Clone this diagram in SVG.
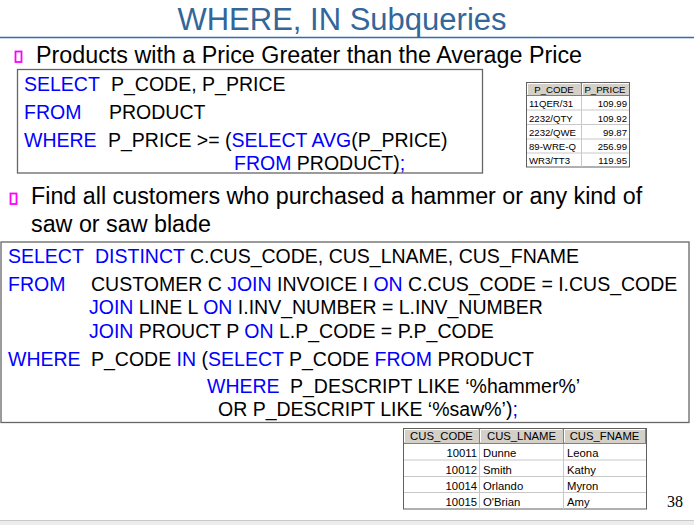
<svg xmlns="http://www.w3.org/2000/svg" width="694" height="525" viewBox="0 0 694 525">
<defs>
<style>
.title{font-family:"Liberation Sans",Arial,sans-serif;font-size:31px;fill:#336699}
.bul{font-family:"Liberation Sans",Arial,sans-serif;font-size:23.3px;fill:#000}
.sq{fill:none;stroke:#FF00FF;stroke-width:1.8}
.sql{font-family:"Liberation Sans",Arial,sans-serif;font-size:19.5px;fill:#000}
.k{fill:#0000FF}
.box{fill:#fff;stroke:#666;stroke-width:1.3}
.th{fill:#D4D0C8;stroke:none}
.hl{stroke:#fff;stroke-width:1}
.sh{stroke:#808080;stroke-width:1}
.grid{stroke:#C8C8C8;stroke-width:1}
.outer{fill:#fff;stroke:#606060;stroke-width:1}
.t1{font-family:"Liberation Sans",Arial,sans-serif;font-size:9.6px;fill:#000}
.t2{font-family:"Liberation Sans",Arial,sans-serif;font-size:11.3px;fill:#000}
.pg{font-family:"Liberation Serif","Times New Roman",serif;font-size:16px;fill:#000}
</style>
</defs>

<g id="title">
<text class="title" x="342" y="30" text-anchor="middle">WHERE, IN Subqueries</text>
<line x1="0" y1="37.5" x2="694" y2="37.5" stroke="#2F6EAA" stroke-width="1.5"/>
</g>

<g id="bullet1">
<rect class="sq" x="15.5" y="51.5" width="6" height="10.5"/>
<text class="bul" x="36" y="62.5">Products with a Price Greater than the Average Price</text>
</g>

<g id="query1">
<rect class="box" x="17.5" y="69.5" width="465" height="103.5"/>
<text class="sql" y="91" xml:space="preserve"><tspan class="k" x="24">SELECT</tspan><tspan x="111">P_CODE, P_PRICE</tspan></text>
<text class="sql" y="119" xml:space="preserve"><tspan class="k" x="24">FROM</tspan><tspan x="109">PRODUCT</tspan></text>
<text class="sql" y="147" xml:space="preserve"><tspan class="k" x="24">WHERE</tspan><tspan x="108">P_PRICE &gt;= (</tspan><tspan class="k">SELECT AVG</tspan>(P_PRICE)</text>
<text class="sql" y="170" xml:space="preserve"><tspan class="k" x="234">FROM</tspan> PRODUCT)<tspan class="k">;</tspan></text>
</g>

<g id="table1">
<rect class="outer" x="526.5" y="82.5" width="103" height="84.5"/>
<rect class="th" x="527" y="83" width="102" height="12"/>
<line class="hl" x1="527.5" y1="83.5" x2="580" y2="83.5"/>
<line class="hl" x1="527.5" y1="83.5" x2="527.5" y2="95"/>
<line class="hl" x1="582.5" y1="83.5" x2="629" y2="83.5"/>
<line class="hl" x1="582.5" y1="83.5" x2="582.5" y2="95"/>
<line class="sh" x1="527" y1="95.5" x2="629" y2="95.5"/>
<line class="sh" x1="581.5" y1="83" x2="581.5" y2="95"/>
<line class="grid" x1="527" y1="110" x2="629" y2="110"/>
<line class="grid" x1="527" y1="124.5" x2="629" y2="124.5"/>
<line class="grid" x1="527" y1="139" x2="629" y2="139"/>
<line class="grid" x1="527" y1="153" x2="629" y2="153"/>
<line class="grid" x1="581.5" y1="96" x2="581.5" y2="167"/>
<text class="t1" x="554" y="92.5" text-anchor="middle">P_CODE</text>
<text class="t1" x="605" y="92.5" text-anchor="middle">P_PRICE</text>
<text class="t1" x="529" y="107">11QER/31</text>
<text class="t1" x="529" y="121.5">2232/QTY</text>
<text class="t1" x="529" y="136">2232/QWE</text>
<text class="t1" x="529" y="150">89-WRE-Q</text>
<text class="t1" x="529" y="164">WR3/TT3</text>
<text class="t1" x="627" y="107" text-anchor="end">109.99</text>
<text class="t1" x="627" y="121.5" text-anchor="end">109.92</text>
<text class="t1" x="627" y="136" text-anchor="end">99.87</text>
<text class="t1" x="627" y="150" text-anchor="end">256.99</text>
<text class="t1" x="627" y="164" text-anchor="end">119.95</text>
</g>

<g id="bullet2">
<rect class="sq" x="10.5" y="193.5" width="6" height="10.5"/>
<text class="bul" x="31" y="204">Find all customers who purchased a hammer or any kind of</text>
<text class="bul" x="31" y="232">saw or saw blade</text>
</g>

<g id="query2">
<rect class="box" x="1" y="242" width="688" height="180.5"/>
<text class="sql" y="263" xml:space="preserve"><tspan class="k" x="8">SELECT</tspan><tspan class="k" x="95">DISTINCT</tspan> C.CUS_CODE, CUS_LNAME, CUS_FNAME</text>
<text class="sql" y="291" xml:space="preserve"><tspan class="k" x="8">FROM</tspan><tspan x="91">CUSTOMER C </tspan><tspan class="k">JOIN</tspan> INVOICE I <tspan class="k">ON</tspan> C.CUS_CODE = I.CUS_CODE</text>
<text class="sql" y="313.5" xml:space="preserve"><tspan class="k" x="89">JOIN</tspan> LINE L <tspan class="k">ON</tspan> I.INV_NUMBER = L.INV_NUMBER</text>
<text class="sql" y="337.5" xml:space="preserve"><tspan class="k" x="89">JOIN</tspan> PROUCT P <tspan class="k">ON</tspan> L.P_CODE = P.P_CODE</text>
<text class="sql" y="365.5" xml:space="preserve"><tspan class="k" x="8">WHERE</tspan><tspan x="91">P_CODE </tspan><tspan class="k">IN</tspan> (<tspan class="k">SELECT</tspan> P_CODE <tspan class="k">FROM</tspan> PRODUCT</text>
<text class="sql" y="393" xml:space="preserve"><tspan class="k" x="207">WHERE</tspan><tspan x="290">P_DESCRIPT LIKE ‘%hammer%’</tspan></text>
<text class="sql" y="416" xml:space="preserve"><tspan x="218">OR P_DESCRIPT LIKE ‘%saw%’)</tspan><tspan class="k">;</tspan></text>
</g>

<g id="table2">
<rect class="outer" x="403.5" y="428.5" width="243" height="80.5"/>
<rect class="th" x="404" y="429" width="242" height="14"/>
<line class="hl" x1="404.5" y1="429.5" x2="478" y2="429.5"/>
<line class="hl" x1="404.5" y1="429.5" x2="404.5" y2="442"/>
<line class="hl" x1="480.5" y1="429.5" x2="562" y2="429.5"/>
<line class="hl" x1="480.5" y1="429.5" x2="480.5" y2="442"/>
<line class="hl" x1="564.5" y1="429.5" x2="645" y2="429.5"/>
<line class="hl" x1="564.5" y1="429.5" x2="564.5" y2="442"/>
<line class="sh" x1="404" y1="443.5" x2="646" y2="443.5"/>
<line class="sh" x1="479.5" y1="429" x2="479.5" y2="443"/>
<line class="sh" x1="563.5" y1="429" x2="563.5" y2="443"/>
<line class="sh" x1="645.5" y1="429" x2="645.5" y2="443"/>
<line class="grid" x1="404" y1="460" x2="646" y2="460"/>
<line class="grid" x1="404" y1="476.5" x2="646" y2="476.5"/>
<line class="grid" x1="404" y1="492.5" x2="646" y2="492.5"/>
<line class="grid" x1="479.5" y1="444" x2="479.5" y2="509"/>
<line class="grid" x1="563.5" y1="444" x2="563.5" y2="509"/>
<text class="t2" x="441.5" y="440" text-anchor="middle">CUS_CODE</text>
<text class="t2" x="521.5" y="440" text-anchor="middle">CUS_LNAME</text>
<text class="t2" x="604.5" y="440" text-anchor="middle">CUS_FNAME</text>
<text class="t2" x="477" y="457" text-anchor="end">10011</text>
<text class="t2" x="477" y="473.5" text-anchor="end">10012</text>
<text class="t2" x="477" y="489.5" text-anchor="end">10014</text>
<text class="t2" x="477" y="506" text-anchor="end">10015</text>
<text class="t2" x="483" y="457">Dunne</text>
<text class="t2" x="483" y="473.5">Smith</text>
<text class="t2" x="483" y="489.5">Orlando</text>
<text class="t2" x="483" y="506">O'Brian</text>
<text class="t2" x="567" y="457">Leona</text>
<text class="t2" x="567" y="473.5">Kathy</text>
<text class="t2" x="567" y="489.5">Myron</text>
<text class="t2" x="567" y="506">Amy</text>
</g>

<g id="footer">
<text class="pg" x="667" y="507">38</text>
<rect x="0" y="521" width="694" height="4" fill="#ECECEC"/>
<line x1="0" y1="520.5" x2="694" y2="520.5" stroke="#C8C8C8" stroke-width="1"/>
</g>
</svg>
